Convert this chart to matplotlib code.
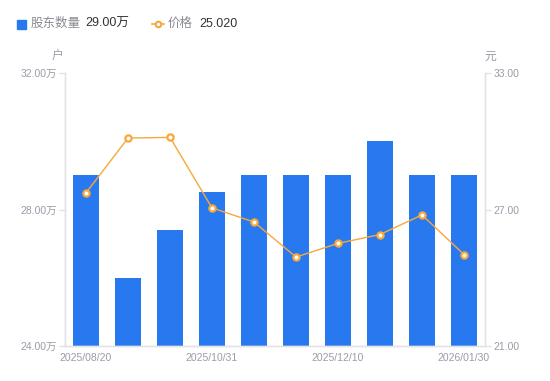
import numpy as np
import matplotlib.pyplot as plt
from matplotlib.ticker import FuncFormatter

plt.rcParams['font.family'] = ['Liberation Sans', 'Noto Sans CJK SC', 'DejaVu Sans']

dates = ["2025/08/20", "2025/09/10", "2025/09/30", "2025/10/31", "2025/11/10",
         "2025/11/20", "2025/12/10", "2025/12/31", "2026/01/10", "2026/01/30"]
holders = [29.00, 26.00, 27.40, 28.50, 29.00, 29.00, 29.00, 30.00, 29.00, 29.00]  # 万户
price = [27.73, 30.14, 30.17, 27.07, 26.45, 24.91, 25.51, 25.90, 26.76, 25.02]
label_idx = [0, 3, 6, 9]

BLUE = '#2878f0'
ORANGE = '#f7a83a'
GRID = '#e3e3e6'
TXT = '#9b9ba8'

fig = plt.figure(figsize=(5.5, 3.81), dpi=100)
ax = fig.add_axes([65/550, 35/381, 420/550, 273/381])
ax2 = ax.twinx()

x = np.arange(len(dates))
ax.bar(x, holders, width=0.6, color=BLUE, zorder=2)
ax.set_xlim(-0.5, len(dates) - 0.5)
ax.set_ylim(24, 32)
ax.set_yticks([24, 28, 32])
ax.yaxis.set_major_formatter(FuncFormatter(lambda v, p: f"{v:.2f}万"))
ax.set_xticks([x[i] for i in label_idx])
ax.set_xticklabels([dates[i] for i in label_idx])

ax2.plot(x, price, color=ORANGE, lw=1, marker='o', ms=4.5, mfc='white',
         mec=ORANGE, mew=1.6, zorder=3)
ax2.set_ylim(21, 33)
ax2.set_yticks([21, 27, 33])
ax2.yaxis.set_major_formatter(FuncFormatter(lambda v, p: f"{v:.2f}"))

for a in (ax, ax2):
    for s in a.spines.values():
        s.set_color(GRID)
        s.set_linewidth(1)
    a.spines['top'].set_visible(False)
    a.tick_params(colors=GRID, labelcolor=TXT, labelsize=7.5, length=4, width=1)
ax.tick_params(axis='x', length=0, pad=5)
ax.tick_params(axis='y', pad=2)
ax2.tick_params(axis='y', pad=2)

fig.text(57/550, 1 - 57/381, "户", color=TXT, fontsize=8.5, ha='center', va='center')
fig.text(490/550, 1 - 57/381, "元", color=TXT, fontsize=8.5, ha='center', va='center')

# legend
ly = 1 - 24/381
fig.patches.append(plt.Rectangle((17/550, 1 - 28.5/381), 9/550, 9/381,
                                 transform=fig.transFigure, color=BLUE))
fig.text(31/550, ly, "股东数量", color='#8a8a96', fontsize=9, va='center')
fig.text(85/550, ly, "29.00万", color='#333333', fontsize=9, va='center')
fig.lines.append(plt.Line2D([152/550, 158/550, 164/550], [ly, ly, ly],
                            transform=fig.transFigure, color=ORANGE, lw=1.2,
                            marker='o', ms=4, mfc='white', mec=ORANGE, mew=1.5,
                            markevery=[1]))
fig.text(168/550, ly, "价格", color='#8a8a96', fontsize=9, va='center')
fig.text(199/550, ly, "25.020", color='#333333', fontsize=9, va='center')

fig.savefig("out.png", dpi=100)
